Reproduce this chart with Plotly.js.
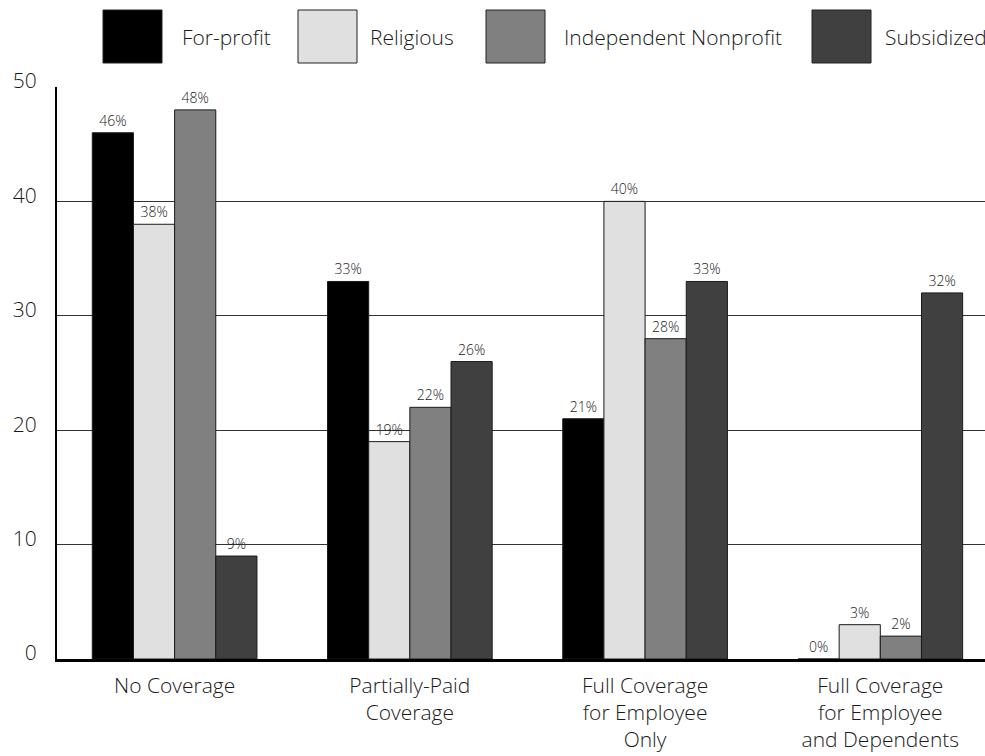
<!DOCTYPE html>
<html>
<head>
<meta charset="utf-8">
<script src="https://cdn.plot.ly/plotly-3.0.1.min.js"></script>
<style>
  html, body { margin: 0; padding: 0; background: #fff; }
  #chart { width: 985px; height: 756px; }
</style>
</head>
<body>
<div id="chart"></div>
<script>
// Health coverage offered, by type of organization (percent)
const categories = [
  "No Coverage",
  "Partially-Paid<br>Coverage",
  "Full Coverage<br>for Employee<br>Only",
  "Full Coverage<br>for Employee<br>and Dependents"
];
const seriesNames = ["For-profit", "Religious", "Independent Nonprofit", "Subsidized"];
const forProfit   = [46, 33, 21, 0];
const religious   = [38, 19, 40, 3];
const independent = [48, 22, 28, 2];
const subsidized  = [9, 26, 33, 32];
const yTicks = [0, 10, 20, 30, 40, 50];

const seriesValues = [forProfit, religious, independent, subsidized];
const fills = ["#000000", "#e0e0e0", "#808080", "#404040"];
const FONT = "'Open Sans', Lato, sans-serif";
const W8 = 300;

const traces = seriesValues.map((vals, i) => ({
  type: "bar",
  name: seriesNames[i],
  x: categories,
  y: vals,
  marker: { color: fills[i], line: { color: "#1a1a1a", width: 1 } },
  text: vals.map(v => v + "%"),
  textposition: "outside",
  cliponaxis: false,
  textfont: { family: FONT, size: 14, color: "#1a1a1a", weight: W8 },
  hoverinfo: "skip",
  showlegend: false
}));

// plot area in pixels
const W = 985, H = 756;
const M = { l: 57, r: 0, t: 87, b: 97 };
const pw = W - M.l - M.r, ph = H - M.t - M.b;
const px = x => (x - M.l) / pw;
const py = y => (H - M.b - y) / ph;

// hand-built legend: big swatches with labels
const swatchX = [103, 298, 486, 812];
const labelX = [180, 368, 562, 883];
const shapes = [];
const annotations = [];
seriesNames.forEach((name, i) => {
  shapes.push({
    type: "rect", xref: "paper", yref: "paper",
    x0: px(swatchX[i]), x1: px(swatchX[i] + 59),
    y0: py(63), y1: py(10),
    fillcolor: fills[i], line: { color: "#222", width: 1 }
  });
  annotations.push({
    xref: "paper", yref: "paper",
    x: px(labelX[i]), y: py(37),
    xanchor: "left", yanchor: "middle",
    text: name, showarrow: false,
    font: { family: FONT, size: 21, color: "#1a1a1a", weight: W8 }
  });
});

const layout = {
  width: W, height: H,
  margin: M,
  paper_bgcolor: "#fff",
  plot_bgcolor: "#fff",
  barmode: "group",
  bargap: 0.3,
  bargroupgap: 0,
  font: { family: FONT, color: "#1a1a1a", weight: W8 },
  xaxis: {
    type: "category",
    range: [-0.5, 3.445],
    showline: true, linecolor: "#000", linewidth: 2.5,
    showgrid: false, ticks: "",
    ticklabelstandoff: 6,
    tickfont: { family: FONT, size: 21, color: "#1a1a1a", weight: W8 },
    fixedrange: true
  },
  yaxis: {
    range: [0, 50],
    tickvals: yTicks,
    showline: true, linecolor: "#000", linewidth: 2,
    showgrid: true, gridcolor: "#333", gridwidth: 1,
    zeroline: false, ticks: "",
    ticklabelstandoff: 14,
    ticklabelshift: -6,
    tickfont: { family: FONT, size: 21, color: "#1a1a1a", weight: W8 },
    fixedrange: true
  },
  shapes: shapes,
  annotations: annotations
};

Plotly.newPlot("chart", traces, layout, { displayModeBar: false, staticPlot: true });
</script>
</body>
</html>
